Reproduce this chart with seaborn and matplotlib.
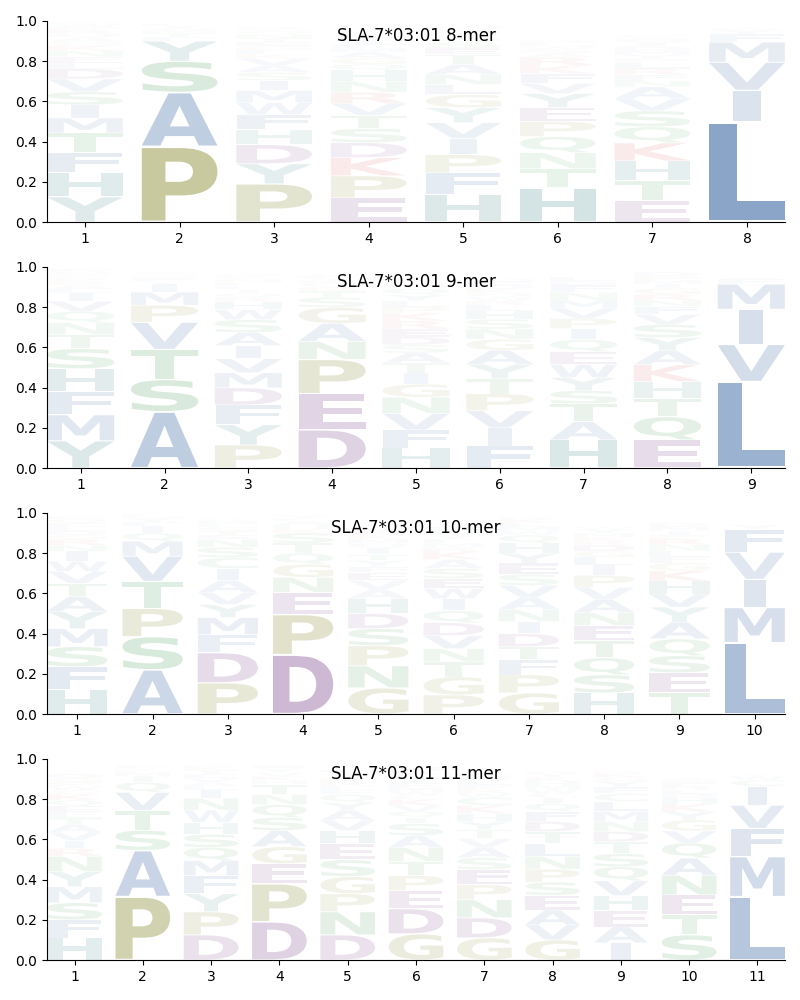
import numpy as np
import matplotlib
matplotlib.use("Agg")
import matplotlib.pyplot as plt
import seaborn as sns
from matplotlib.textpath import TextPath
from matplotlib.font_manager import FontProperties
from matplotlib.patches import PathPatch
from matplotlib.transforms import Affine2D

sns.set_style("ticks", {"text.color": "black", "axes.edgecolor": "black",
                        "xtick.color": "black", "ytick.color": "black",
                        "axes.labelcolor": "black"})
plt.rcParams['font.family'] = ['DejaVu Sans']

# ---------------- data ----------------
titles = ["SLA-7*03:01 8-mer", "SLA-7*03:01 9-mer", "SLA-7*03:01 10-mer", "SLA-7*03:01 11-mer"]

mer8_letters = [
    "YHFTMSIVDNELKRQAGWPC",
    "PASYTFMLIW",
    "PYDHFMIVAWSNTEGLQRCK",
    "EPKDTVHSNRAGQYIFMW",
    "HFPIVYGTANLSEDKQMW",
    "HTQPEYFNVRKSAGDLMW",
    "ETHKQSAVLRFNGIDMYWPC",
    "LIVMFYW",
]
mer8_values = [
    [0.125, 0.12, 0.10, 0.098, 0.075, 0.065, 0.065, 0.064, 0.05, 0.03, 0.03, 0.03, 0.025, 0.02, 0.02, 0.02, 0.02, 0.015, 0.015, 0.01],
    [0.375, 0.27, 0.155, 0.10, 0.02, 0.02, 0.015, 0.01, 0.01, 0.01],
    [0.19, 0.10, 0.095, 0.075, 0.074, 0.06, 0.05, 0.035, 0.035, 0.06, 0.04, 0.02, 0.02, 0.02, 0.02, 0.02, 0.015, 0.01, 0.01, 0.02],
    [0.12, 0.11, 0.09, 0.075, 0.065, 0.06, 0.055, 0.07, 0.055, 0.055, 0.03, 0.03, 0.03, 0.02, 0.02, 0.02, 0.02, 0.01],
    [0.135, 0.11, 0.09, 0.08, 0.079, 0.075, 0.065, 0.05, 0.05, 0.05, 0.05, 0.03, 0.03, 0.02, 0.02, 0.02, 0.01, 0.01],
    [0.17, 0.095, 0.08, 0.075, 0.07, 0.069, 0.05, 0.08, 0.05, 0.04, 0.04, 0.02, 0.02, 0.01, 0.01, 0.01, 0.01, 0.01],
    [0.105, 0.10, 0.099, 0.09, 0.08, 0.079, 0.06, 0.06, 0.03, 0.03, 0.03, 0.03, 0.02, 0.02, 0.02, 0.02, 0.02, 0.01, 0.02, 0.01],
    [0.50, 0.155, 0.14, 0.10, 0.04, 0.02, 0.01],
]

mer9_letters = [
    "YMFHSTQNIVALKREDGPW",
    "ASTVPMIFYGQN",
    "PYFDMAISVHWLTNEGQKRC",
    "DEPSGNATQRKVLY",
    "HFVNGIATKREDQYLPMWS",
    "FIVPTYAGSNHLEDKQMWR",
    "HTWEQIYSVPAFNMLD",
    "TEQHKSYAVFGRNDPMI",
    "LVIMFY",
]
mer9_values = [
    [0.135, 0.13, 0.115, 0.114, 0.10, 0.07, 0.055, 0.06, 0.04, 0.05, 0.02, 0.02, 0.015, 0.015, 0.01, 0.01, 0.01, 0.01, 0.01],
    [0.28, 0.16, 0.15, 0.135, 0.085, 0.065, 0.04, 0.015, 0.015, 0.01, 0.01, 0.01],
    [0.115, 0.10, 0.099, 0.085, 0.075, 0.065, 0.065, 0.064, 0.07, 0.04, 0.05, 0.02, 0.02, 0.015, 0.015, 0.01, 0.02, 0.01, 0.02, 0.01],
    [0.19, 0.18, 0.17, 0.05, 0.08, 0.09, 0.089, 0.03, 0.02, 0.02, 0.015, 0.01, 0.01, 0.01],
    [0.10, 0.09, 0.082, 0.08, 0.065, 0.055, 0.05, 0.05, 0.04, 0.04, 0.04, 0.04, 0.03, 0.03, 0.03, 0.03, 0.02, 0.01, 0.04],
    [0.11, 0.09, 0.085, 0.084, 0.075, 0.072, 0.07, 0.055, 0.05, 0.05, 0.04, 0.03, 0.02, 0.02, 0.02, 0.02, 0.01, 0.02, 0.02],
    [0.14, 0.09, 0.065, 0.064, 0.06, 0.055, 0.065, 0.065, 0.05, 0.05, 0.09, 0.035, 0.04, 0.04, 0.02, 0.02],
    [0.09, 0.14, 0.115, 0.085, 0.084, 0.065, 0.065, 0.07, 0.05, 0.04, 0.03, 0.03, 0.03, 0.02, 0.02, 0.02, 0.02],
    [0.43, 0.185, 0.175, 0.125, 0.025, 0.01],
]

mer10_letters = [
    "HFSMYATIVRWNQELDGP",
    "ASPTVMIQYFLN",
    "PDFMYAISVCNGTEHLR",
    "DPEGNSQTAHKVYL",
    "GNPSDHVAEITQRKMWYF",
    "PTGVDIQSNEAKWFHYLMR",
    "GPFVHANDYITESQKLMWR",
    "HTSQEPAVNILDGYMKRW",
    "TESQAHYKVGRNLFDMIP",
    "LMIVFY",
]
mer10_values = [
    [0.12, 0.115, 0.10, 0.09, 0.085, 0.075, 0.065, 0.05, 0.06, 0.03, 0.05, 0.03, 0.02, 0.02, 0.02, 0.02, 0.02, 0.015],
    [0.22, 0.165, 0.14, 0.135, 0.125, 0.075, 0.035, 0.04, 0.02, 0.02, 0.01, 0.01],
    [0.155, 0.15, 0.09, 0.085, 0.065, 0.06, 0.059, 0.05, 0.06, 0.055, 0.04, 0.02, 0.02, 0.02, 0.015, 0.015, 0.01],
    [0.295, 0.20, 0.11, 0.065, 0.075, 0.05, 0.055, 0.05, 0.02, 0.02, 0.02, 0.01, 0.01, 0.01],
    [0.13, 0.11, 0.10, 0.085, 0.075, 0.074, 0.045, 0.045, 0.04, 0.03, 0.03, 0.025, 0.02, 0.02, 0.02, 0.01, 0.03, 0.03],
    [0.095, 0.075, 0.09, 0.065, 0.064, 0.06, 0.06, 0.05, 0.065, 0.05, 0.045, 0.04, 0.05, 0.02, 0.02, 0.02, 0.02, 0.02, 0.02],
    [0.105, 0.09, 0.075, 0.06, 0.05, 0.06, 0.06, 0.065, 0.05, 0.06, 0.065, 0.055, 0.055, 0.04, 0.02, 0.02, 0.02, 0.02, 0.01],
    [0.105, 0.085, 0.09, 0.085, 0.075, 0.06, 0.065, 0.06, 0.065, 0.05, 0.04, 0.03, 0.03, 0.02, 0.02, 0.02, 0.02, 0.01],
    [0.105, 0.10, 0.085, 0.084, 0.083, 0.065, 0.075, 0.05, 0.065, 0.04, 0.03, 0.03, 0.03, 0.03, 0.02, 0.02, 0.02, 0.02],
    [0.355, 0.175, 0.14, 0.135, 0.115, 0.02],
]

mer11_letters = [
    "HFSMNAVYIKRQELDGPWTC",
    "PASTVQIMFYL",
    "DPFMSYIQNWHTEVALKR",
    "DPEGSQTANYVKHF",
    "DNPGSEHAVQYTKRLFMI",
    "GDPSETNAKVQHRLYFIMWC",
    "GDNPEASCKTHVYQLFRIMW",
    "GVPANETISLFDQYKHMRWC",
    "QIHVESTALCMNDYFKGR",
    "TSEANQGVKYHFRLDIM",
    "LMFVICWY",
]
mer11_values = [
    [0.11, 0.09, 0.085, 0.08, 0.075, 0.04, 0.04, 0.075, 0.04, 0.03, 0.04, 0.03, 0.03, 0.03, 0.02, 0.02, 0.02, 0.02, 0.03, 0.02],
    [0.315, 0.23, 0.10, 0.099, 0.09, 0.05, 0.03, 0.02, 0.01, 0.01, 0.01],
    [0.125, 0.115, 0.09, 0.075, 0.065, 0.09, 0.04, 0.065, 0.06, 0.06, 0.06, 0.02, 0.02, 0.02, 0.02, 0.02, 0.015, 0.01],
    [0.19, 0.189, 0.10, 0.085, 0.065, 0.064, 0.05, 0.08, 0.05, 0.02, 0.02, 0.02, 0.02, 0.01],
    [0.125, 0.115, 0.09, 0.085, 0.084, 0.08, 0.065, 0.05, 0.05, 0.04, 0.04, 0.02, 0.02, 0.02, 0.02, 0.02, 0.01, 0.01],
    [0.13, 0.125, 0.075, 0.06, 0.09, 0.07, 0.069, 0.06, 0.03, 0.03, 0.03, 0.02, 0.02, 0.02, 0.02, 0.02, 0.03, 0.02, 0.02, 0.02],
    [0.11, 0.10, 0.09, 0.075, 0.074, 0.05, 0.06, 0.04, 0.04, 0.045, 0.04, 0.045, 0.04, 0.02, 0.02, 0.02, 0.02, 0.01, 0.01, 0.02],
    [0.10, 0.075, 0.065, 0.074, 0.064, 0.073, 0.06, 0.03, 0.065, 0.063, 0.05, 0.05, 0.04, 0.02, 0.02, 0.02, 0.02, 0.01, 0.02, 0.02],
    [0.07, 0.085, 0.075, 0.074, 0.08, 0.065, 0.06, 0.08, 0.05, 0.04, 0.05, 0.05, 0.05, 0.03, 0.03, 0.02, 0.02, 0.01],
    [0.10, 0.125, 0.099, 0.085, 0.098, 0.075, 0.055, 0.06, 0.04, 0.04, 0.03, 0.02, 0.02, 0.02, 0.02, 0.01, 0.01],
    [0.315, 0.20, 0.14, 0.115, 0.095, 0.03, 0.02, 0.01],
]

panels = [
    (mer8_letters, mer8_values),
    (mer9_letters, mer9_values),
    (mer10_letters, mer10_values),
    (mer11_letters, mer11_values),
]

# ---------------- styling ----------------
BLUE = "#194d93"
OLIVE = "#6e7000"
PURPLE = "#5a146e"
GREEN = "#148228"
TEAL = "#006060"
RED = "#c81e1e"
COLORS = {}
for c in "AVLIMFW":
    COLORS[c] = BLUE
for c in "PG":
    COLORS[c] = OLIVE
for c in "DE":
    COLORS[c] = PURPLE
for c in "STNQC":
    COLORS[c] = GREEN
for c in "HY":
    COLORS[c] = TEAL
for c in "KR":
    COLORS[c] = RED

fp = FontProperties(family="DejaVu Sans", weight="bold")
_cache = {}


def glyph(ch):
    if ch not in _cache:
        p = TextPath((0, 0), ch, size=1, prop=fp)
        _cache[ch] = (p, p.get_extents())
    return _cache[ch]


E_W = glyph("E")[1].width
WIDTH = 0.8
VPAD = 0.04


def draw_letter(ax, ch, x, y0, h):
    p, ext = glyph(ch)
    hs = min(WIDTH / ext.width, WIDTH / E_W)
    w_real = ext.width * hs
    hh = h * (1 - VPAD)
    vs = hh / ext.height
    t = (Affine2D().translate(-ext.x0, -ext.y0).scale(hs, vs)
         .translate(x - w_real / 2, y0 + h * VPAD / 2))
    path = t.transform_path(p)
    ax.add_patch(PathPatch(path, facecolor=COLORS[ch], alpha=min(1.0, h),
                           edgecolor="none", lw=0))


fig = plt.figure(figsize=(8, 10), dpi=100)
bottoms = [0.778, 0.532, 0.286, 0.040]
for (letters, values), title, b in zip(panels, titles, bottoms):
    ax = fig.add_axes([0.059, b, 0.922, 0.201])
    n = len(letters)
    for i, (lets, vals) in enumerate(zip(letters, values)):
        order = np.argsort(vals, kind="stable")[::-1]
        y = 0.0
        for k in order:
            draw_letter(ax, lets[k], i + 1, y, vals[k])
            y += vals[k]
    ax.set_xlim(0.6, n + 0.4)
    ax.set_ylim(0, 1)
    ax.set_xticks(range(1, n + 1))
    ax.set_yticks(np.arange(0, 1.01, 0.2))
    ax.set_yticklabels([f"{v:.1f}" for v in np.arange(0, 1.01, 0.2)])
    ax.text(0.5, 0.925, title, transform=ax.transAxes, ha="center",
            va="center", fontsize=12, color="black")
    sns.despine(ax=ax)

fig.savefig("out.png", dpi=100)
